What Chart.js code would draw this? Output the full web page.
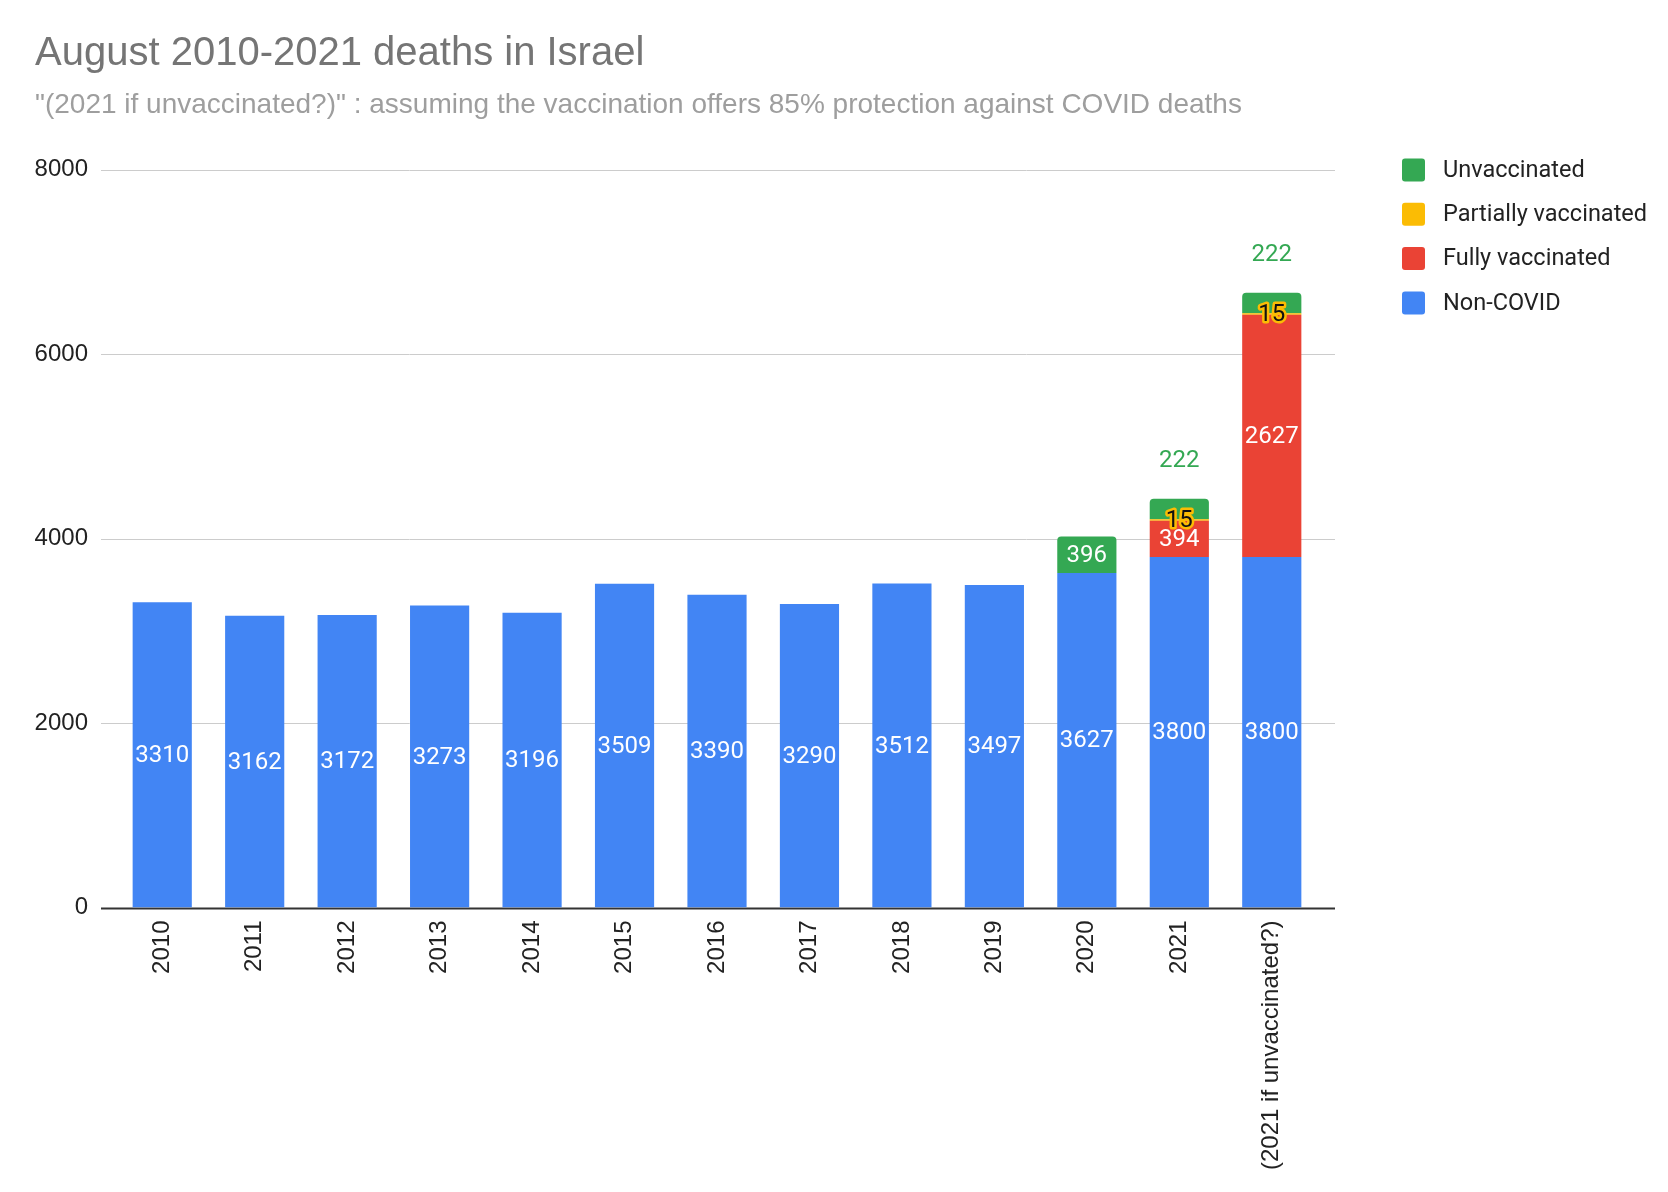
<!DOCTYPE html>
<html>
<head>
<meta charset="utf-8">
<title>August 2010-2021 deaths in Israel</title>
<script src="https://cdn.jsdelivr.net/npm/chart.js@4.4.1/dist/chart.umd.min.js"></script>
<style>
  html, body { margin: 0; padding: 0; background: #fff; }
  #wrap { width: 1668px; height: 1192px; position: relative; }
</style>
</head>
<body>
<div id="wrap"><canvas id="chart"></canvas></div>
<script>
// Data
const categories = ['2010', '2011', '2012', '2013', '2014', '2015', '2016', '2017',
  '2018', '2019', '2020', '2021', '(2021 if unvaccinated?)'];
const nonCovid = [3310, 3162, 3172, 3273, 3196, 3509, 3390, 3290, 3512, 3497, 3627, 3800, 3800];
const fullyVaccinated = [null, null, null, null, null, null, null, null, null, null, null, 394, 2627];
const partiallyVaccinated = [null, null, null, null, null, null, null, null, null, null, null, 15, 15];
const unvaccinated = [null, null, null, null, null, null, null, null, null, null, 396, 222, 222];
const yTicks = [0, 2000, 4000, 6000, 8000];

const COLORS = {
  blue: '#4285F4',
  red: '#EA4335',
  yellow: '#FBBC04',
  green: '#34A853'
};

Chart.defaults.animation = false;
Chart.defaults.font.family = '"Liberation Sans", Arial, sans-serif';

// horizontal grid lines, drawn a bit wider than the bar area like the original
const gridLines = {
  id: 'gridLines',
  beforeDatasetsDraw(chart) {
    const { ctx, chartArea, scales } = chart;
    const left = chartArea.left - 15, right = chartArea.right + 17;
    ctx.save();
    scales.y.ticks.forEach(t => {
      const y = Math.round(scales.y.getPixelForValue(t.value)) + 0.5;
      ctx.beginPath();
      ctx.strokeStyle = t.value === 0 ? '#333333' : '#cccccc';
      ctx.lineWidth = t.value === 0 ? 2 : 1;
      ctx.moveTo(left, y);
      ctx.lineTo(right, y);
      ctx.stroke();
    });
    ctx.restore();
  }
};

// value labels on the bar segments
const barLabels = {
  id: 'barLabels',
  afterDatasetsDraw(chart) {
    const ctx = chart.ctx;
    ctx.save();
    ctx.textAlign = 'center';
    ctx.textBaseline = 'middle';
    ctx.font = '24px Roboto';
    chart.data.datasets.forEach((ds, i) => {
      const meta = chart.getDatasetMeta(i);
      meta.data.forEach((bar, j) => {
        const v = ds.data[j];
        if (v == null) return;
        const top = Math.min(bar.y, bar.base);
        const h = Math.abs(bar.base - bar.y);
        const cy = top + h / 2 + 1;
        const txt = String(v);
        if (ds.labelMode === 'outline') {
          ctx.lineJoin = 'round';
          ctx.lineWidth = 5;
          ctx.strokeStyle = COLORS.yellow;
          ctx.strokeText(txt, bar.x, cy);
          ctx.fillStyle = '#111';
          ctx.fillText(txt, bar.x, cy);
        } else if (ds.labelMode === 'fit' && h < 30) {
          ctx.fillStyle = COLORS.green;
          ctx.fillText(txt, bar.x, top - 38);
        } else {
          ctx.fillStyle = '#ffffff';
          ctx.fillText(txt, bar.x, cy);
        }
      });
    });
    ctx.restore();
  }
};

// legend on the right, top first
const sideLegend = {
  id: 'sideLegend',
  afterDraw(chart) {
    const ctx = chart.ctx;
    const items = chart.data.datasets.slice().reverse();
    ctx.save();
    ctx.font = '23.5px Roboto';
    ctx.textBaseline = 'middle';
    ctx.textAlign = 'left';
    items.forEach((ds, k) => {
      const cy = 170 + k * 44.3;
      ctx.fillStyle = ds.backgroundColor;
      ctx.beginPath();
      ctx.roundRect(1402, cy - 11.5, 23, 23, 3);
      ctx.fill();
      ctx.fillStyle = '#222';
      ctx.fillText(ds.label, 1443, cy + 1);
    });
    ctx.restore();
  }
};

const chart = new Chart(document.getElementById('chart'), {
  type: 'bar',
  data: {
    labels: categories,
    datasets: [
      { label: 'Non-COVID', data: nonCovid, backgroundColor: COLORS.blue },
      { label: 'Fully vaccinated', data: fullyVaccinated, backgroundColor: COLORS.red },
      { label: 'Partially vaccinated', data: partiallyVaccinated, backgroundColor: COLORS.yellow, labelMode: 'outline' },
      { label: 'Unvaccinated', data: unvaccinated, backgroundColor: COLORS.green, labelMode: 'fit', borderRadius: 4 }
    ]
  },
  options: {
    responsive: true,
    maintainAspectRatio: false,
    layout: { padding: { left: 35, right: 350, top: 0, bottom: 9 } },
    datasets: {
      bar: { barPercentage: 0.64, categoryPercentage: 1.0, borderWidth: 0 }
    },
    scales: {
      x: {
        stacked: true,
        grid: { display: false, drawTicks: false },
        border: { display: false },
        ticks: {
          color: '#222',
          font: { size: 24 },
          minRotation: 90,
          maxRotation: 90,
          padding: 13,
          autoSkip: false
        }
      },
      y: {
        stacked: true,
        min: 0,
        max: 8000,
        afterBuildTicks: axis => { axis.ticks = yTicks.map(v => ({ value: v })); },
        afterFit: axis => { axis.width = 81; },
        grid: { display: false, drawTicks: false },
        border: { display: false },
        ticks: {
          color: '#222',
          font: { size: 24 },
          padding: 28,
          callback: v => String(v)
        }
      }
    },
    plugins: {
      legend: { display: false },
      tooltip: { enabled: false },
      title: {
        display: true,
        text: 'August 2010-2021 deaths in Israel',
        align: 'start',
        color: '#757575',
        font: { size: 40, weight: 'normal' },
        padding: { top: 30, bottom: 10 }
      },
      subtitle: {
        display: true,
        text: '"(2021 if unvaccinated?)" : assuming the vaccination offers 85% protection against COVID deaths',
        align: 'start',
        color: '#9e9e9e',
        font: { size: 28, weight: 'normal' },
        padding: { top: 0, bottom: 48 }
      }
    }
  },
  plugins: [gridLines, barLabels, sideLegend]
});
</script>
</body>
</html>
